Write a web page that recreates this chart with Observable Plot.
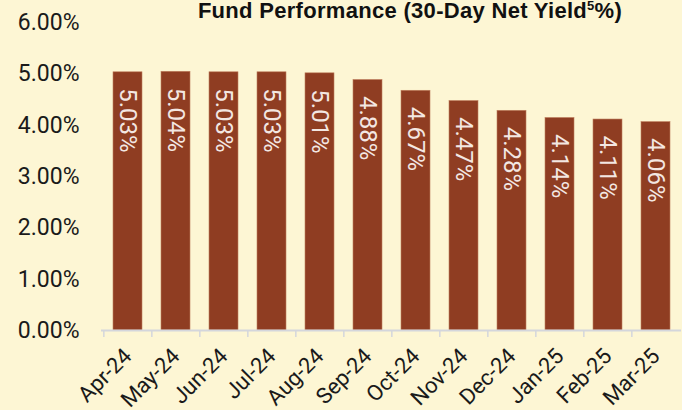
<!DOCTYPE html>
<html><head><meta charset="utf-8">
<script src="https://cdn.jsdelivr.net/npm/d3@7"></script>
<script src="https://cdn.jsdelivr.net/npm/@observablehq/plot@0.6"></script>
<style>
html,body{margin:0;padding:0;background:#fdf6d4;overflow:hidden;}
#wrap{position:relative;width:682px;height:410px;}
#title{position:absolute;top:-2px;left:110px;width:600px;text-align:center;font:bold 22px "Liberation Sans",sans-serif;color:#111;white-space:nowrap;line-height:25px;letter-spacing:0.3px;}
#title sup{font-size:13px;line-height:0;vertical-align:8px;}
</style></head><body><div id="wrap"><div id="title">Fund Performance (30-Day Net Yield<sup>5</sup>%)</div></div>
<script>
const months = ["Apr-24","May-24","Jun-24","Jul-24","Aug-24","Sep-24","Oct-24","Nov-24","Dec-24","Jan-25","Feb-25","Mar-25"];
const yields = [5.03,5.04,5.03,5.03,5.01,4.88,4.67,4.47,4.28,4.14,4.11,4.06];
const yTicks = [0,1,2,3,4,5,6];

const W = 682, H = 410, ml = 101, mr = 1, mt = 22, mb = 80;
const step = (W - ml - mr) / months.length;
const data = months.map((m, i) => ({month: m, value: yields[i]}));

const chart = Plot.plot({
  width: W, height: H,
  marginLeft: ml, marginRight: mr, marginTop: mt, marginBottom: mb,
  style: {background: "transparent", fontFamily: "Roboto, sans-serif", color: "#1a1a1a", overflow: "visible"},
  x: {domain: months, paddingInner: 0.4, paddingOuter: 0.2, label: null},
  y: {domain: [0, 6], label: null},
  marks: [
    Plot.barY(data, {x: "month", y: "value", fill: "#8f3d22", stroke: "#c0805f", strokeWidth: 0.6}),
    Plot.ruleY([0], {stroke: "#d4d6dc", strokeWidth: 2}),
    Plot.axisX({ticks: months, tickSize: 7, fill: "none", dx: -step / 2, stroke: "#d4d6dc", strokeWidth: 1.5, label: null}),
    Plot.axisX({ticks: months, tickSize: 0, tickRotate: -45, tickPadding: 22, fontSize: 22, label: null}),
    Plot.axisY({ticks: yTicks, tickSize: 0, tickPadding: 22, fontSize: 23, tickFormat: d => d.toFixed(2) + "%", label: null}),
    Plot.text(data, {x: "month", y: "value", text: d => d.value.toFixed(2) + "%", rotate: 90, textAnchor: "start", dy: 16, fill: "#f3e7e2", fontSize: 24})
  ]
});
chart.style.position = "absolute";
chart.style.left = "0px";
chart.style.top = "0px";
const wrap = document.getElementById("wrap");
wrap.insertBefore(chart, wrap.firstChild);
</script>
</body></html>
